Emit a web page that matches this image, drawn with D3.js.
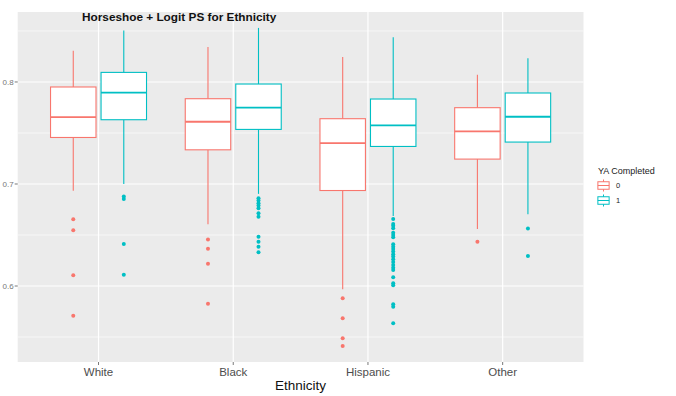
<!DOCTYPE html>
<html><head><meta charset="utf-8">
<script src="https://cdn.jsdelivr.net/npm/d3@7"></script>
<style>body{margin:0;background:#fff}svg{display:block}text{font-family:"Liberation Sans",Arial,sans-serif}</style>
</head><body>
<script>
const categories = ["White","Black","Hispanic","Other"];
const groups = ["0","1"];
const groupColors = ["#F8766D","#00BFC4"];
const yTicks = [0.6,0.7,0.8];
const yMinor = [0.55,0.65,0.75,0.85];

// group 0
const hi0  = [0.8307,0.8344,0.8245,0.8072];
const q3_0 = [0.7951,0.7836,0.7640,0.7748];
const med0 = [0.7656,0.7610,0.7401,0.7515];
const q1_0 = [0.7456,0.7335,0.6936,0.7244];
const lo0  = [0.6933,0.6606,0.5968,0.6560];
const out0 = [
  [0.6655,0.6547,0.6105,0.5708],
  [0.6455,0.6366,0.6219,0.5826],
  [0.5879,0.5683,0.5487,0.5411],
  [0.6435]
];
// group 1
const hi1  = [0.8504,0.8530,0.8438,0.8232];
const q3_1 = [0.8094,0.7980,0.7833,0.7892];
const med1 = [0.7895,0.7748,0.7574,0.7659];
const q1_1 = [0.7630,0.7535,0.7368,0.7411];
const lo1  = [0.7001,0.6903,0.6687,0.6704];
const out1 = [
  [0.6877,0.6854,0.6412,0.6111],
  [0.6861,0.6837,0.6812,0.6788,0.6763,0.6714,0.6680,0.6484,0.6435,0.6386,0.6331],
  [0.6658,0.6609,0.6590,0.6567,0.6523,0.6501,0.6478,0.6409,0.6386,0.6363,0.6337,0.6311,0.6288,0.6262,0.6236,0.6206,0.6180,0.6157,0.6085,0.6027,0.6007,0.5820,0.5797,0.5634],
  [0.6563,0.6294]
];

const W=676,H=396;
const P={l:17.7,r:583.5,t:12,b:362};
const svg=d3.select("body").append("svg").attr("width",W).attr("height",H);

const x=d3.scalePoint().domain(categories).range([P.l,P.r]).padding(0.6);
const y=d3.scaleLinear().domain([0.5255,0.8686]).range([P.b,P.t]);
const step=x.step();
const dodge=d3.scaleBand().domain(groups).range([-0.375*step,0.375*step]);
const boxW=0.3375*step;

svg.append("rect").attr("x",P.l).attr("y",P.t).attr("width",P.r-P.l).attr("height",P.b-P.t).attr("fill","#EBEBEB");
const g=svg.append("g");
g.selectAll(".mn").data(yMinor).join("line").attr("x1",P.l).attr("x2",P.r)
 .attr("y1",d=>y(d)).attr("y2",d=>y(d)).attr("stroke","#fff").attr("stroke-width",0.6);
g.selectAll(".mj").data(yTicks).join("line").attr("x1",P.l).attr("x2",P.r)
 .attr("y1",d=>y(d)).attr("y2",d=>y(d)).attr("stroke","#fff").attr("stroke-width",1.2);
g.selectAll(".mx").data(categories).join("line").attr("y1",P.t).attr("y2",P.b)
 .attr("x1",d=>x(d)).attr("x2",d=>x(d)).attr("stroke","#fff").attr("stroke-width",1.2);

const stats=[[hi0,q3_0,med0,q1_0,lo0,out0],[hi1,q3_1,med1,q1_1,lo1,out1]];
stats.forEach((s,gi)=>{
  const [hi,q3,med,q1,lo,out]=s;
  const col=groupColors[gi];
  categories.forEach((c,ci)=>{
    const cx=x(c)+dodge(groups[gi])+dodge.bandwidth()/2;
    const bg=svg.append("g");
    bg.append("line").attr("x1",cx).attr("x2",cx).attr("y1",y(hi[ci])).attr("y2",y(q3[ci])).attr("stroke",col).attr("stroke-width",1.1);
    bg.append("line").attr("x1",cx).attr("x2",cx).attr("y1",y(q1[ci])).attr("y2",y(lo[ci])).attr("stroke",col).attr("stroke-width",1.1);
    bg.append("rect").attr("x",cx-boxW/2).attr("y",y(q3[ci])).attr("width",boxW).attr("height",y(q1[ci])-y(q3[ci]))
      .attr("fill","#fff").attr("stroke",col).attr("stroke-width",1.1);
    bg.append("line").attr("x1",cx-boxW/2).attr("x2",cx+boxW/2).attr("y1",y(med[ci])).attr("y2",y(med[ci])).attr("stroke",col).attr("stroke-width",1.8);
    bg.selectAll("circle").data(out[ci]).join("circle").attr("cx",cx).attr("cy",d=>y(d)).attr("r",2).attr("fill",col);
  });
});

// y axis
const ya=svg.append("g");
yTicks.forEach(t=>{
  ya.append("line").attr("x1",P.l-3).attr("x2",P.l).attr("y1",y(t)).attr("y2",y(t)).attr("stroke","#555").attr("stroke-width",0.8);
  ya.append("text").attr("x",P.l-4).attr("y",y(t)).attr("dy","0.35em").attr("text-anchor","end")
    .attr("font-size",8).attr("fill","#777").text(d3.format(".1f")(t));
});
// x axis
const xa=svg.append("g");
categories.forEach(c=>{
  xa.append("line").attr("x1",x(c)).attr("x2",x(c)).attr("y1",P.b).attr("y2",P.b+3).attr("stroke","#555").attr("stroke-width",0.8);
  xa.append("text").attr("x",x(c)).attr("y",376).attr("text-anchor","middle").attr("font-size",11.5).attr("fill","#4D4D4D").text(c);
});
svg.append("text").attr("x",(P.l+P.r)/2).attr("y",390).attr("text-anchor","middle").attr("font-size",13.5).attr("fill","#111").text("Ethnicity");

// title
svg.append("text").attr("x",82).attr("y",21).attr("font-size",11.8).attr("font-weight","bold").attr("fill","#111").text("Horseshoe + Logit PS for Ethnicity");

// legend
const lg=svg.append("g");
lg.append("text").attr("x",598).attr("y",174).attr("font-size",9).attr("fill","#222").text("YA Completed");
const ks=15;
groups.forEach((gname,i)=>{
  const kx=596, ky=178+i*ks, col=groupColors[i];
  lg.append("line").attr("x1",kx+ks/2).attr("x2",kx+ks/2).attr("y1",ky+0.1*ks).attr("y2",ky+0.9*ks).attr("stroke",col).attr("stroke-width",1);
  lg.append("rect").attr("x",kx+0.125*ks).attr("y",ky+0.25*ks).attr("width",0.75*ks).attr("height",0.5*ks).attr("fill","#fff").attr("stroke",col).attr("stroke-width",1);
  lg.append("line").attr("x1",kx+0.125*ks).attr("x2",kx+0.875*ks).attr("y1",ky+ks/2).attr("y2",ky+ks/2).attr("stroke",col).attr("stroke-width",1);
  lg.append("text").attr("x",616).attr("y",ky+ks/2).attr("dy","0.35em").attr("font-size",7.5).attr("fill","#222").text(gname);
});
</script>
</body></html>
